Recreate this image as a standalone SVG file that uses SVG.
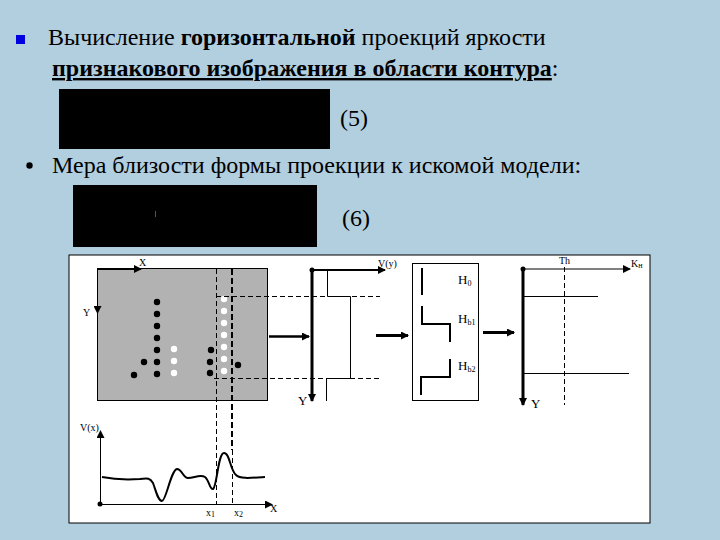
<svg xmlns="http://www.w3.org/2000/svg" width="720" height="540" viewBox="0 0 720 540">
<style>
.t{font-family:"Liberation Serif","Times New Roman",serif;fill:#000}
.h{font-size:24px}
.s{font-size:10px}
.y{font-size:13px}
.l{stroke:#000;fill:none;stroke-width:1}
.m{stroke:#000;fill:none;stroke-width:2}
.b{stroke:#000;fill:none;stroke-width:3}
.d{stroke:#000;fill:none;stroke-width:1;stroke-dasharray:5 3}
.bd{stroke:#000;fill:none;stroke-width:2;stroke-dasharray:6 3}
.k{fill:#000}
.w{fill:#fff}
</style>
<defs>
<marker id="a" markerUnits="userSpaceOnUse" markerWidth="8" markerHeight="8" refX="7" refY="4" orient="auto"><path d="M0 0L8 4L0 8Z" fill="#000"/></marker>
</defs>
<rect width="720" height="540" fill="#b2cfdf"/>
<g id="heading">
<rect x="16" y="35" width="9" height="9" fill="#0000e0"/>
<text class="t h" x="48" y="45">Вычисление <tspan font-weight="bold">горизонтальной</tspan> проекций яркости</text>
<text class="t h" x="52" y="76"><tspan font-weight="bold" text-decoration="underline">признакового изображения в области контура</tspan>:</text>
<rect x="59" y="89" width="271" height="60" fill="#000"/>
<text class="t h" x="340" y="126">(5)</text>
<circle cx="29.500" cy="165.500" r="3.200" fill="#000"/>
<text class="t h" x="52" y="173">Мера близости формы проекции к искомой модели:</text>
<rect x="73" y="185" width="244" height="62" fill="#000"/>
<rect x="155" y="211" width="1" height="6" fill="#555"/>
<text class="t h" x="342" y="226">(6)</text>
</g>
<rect x="69" y="255" width="581" height="268" fill="#fff" stroke="#000" stroke-width="1"/>
<g id="image">
<rect x="97.500" y="268.500" width="170" height="132" fill="#b2b2b2" stroke="#000"/>
<path class="m" d="M97 269H141" marker-end="url(#a)"/>
<path class="l" d="M97.500 269V313" marker-end="url(#a)"/>
<text class="t s" x="139" y="266">X</text>
<text class="t s" x="83" y="316">Y</text>
<g class="k">
<circle cx="157" cy="302" r="3.200"/><circle cx="157" cy="314" r="3.200"/><circle cx="157" cy="326" r="3.200"/><circle cx="157" cy="338" r="3.200"/><circle cx="157" cy="350" r="3.200"/><circle cx="157" cy="362" r="3.200"/><circle cx="157" cy="374" r="3.200"/>
<circle cx="144" cy="362" r="3.200"/><circle cx="134" cy="375" r="3.200"/>
<circle cx="211" cy="350" r="3.200"/><circle cx="210" cy="362" r="3.200"/><circle cx="210" cy="373" r="3.200"/><circle cx="238" cy="365" r="3.200"/>
</g>
<g class="w">
<circle cx="174" cy="349" r="3.200"/><circle cx="174" cy="361" r="3.200"/><circle cx="174" cy="373" r="3.200"/>
<circle cx="224" cy="299" r="3.200"/><circle cx="224" cy="311" r="3.200"/><circle cx="224" cy="323" r="3.200"/><circle cx="224" cy="335" r="3.200"/><circle cx="224" cy="347" r="3.200"/><circle cx="224" cy="359" r="3.200"/><circle cx="224" cy="371" r="3.200"/>
</g>
</g>
<g id="connectors">
<path class="d" d="M216.500 269V505"/>
<path class="d" d="M232.500 450V505"/>
<path class="bd" d="M232 269V450"/>
<path class="d" d="M216 296.500H380"/>
<path class="d" d="M214 378.500H380"/>
<path d="M269 336.500H309" stroke="#000" stroke-width="2.500" fill="none" marker-end="url(#a)"/>
<path d="M376 335.500H408" stroke="#000" stroke-width="3" fill="none" marker-end="url(#a)"/>
<path d="M483 332.500H514" stroke="#000" stroke-width="3" fill="none" marker-end="url(#a)"/>
</g>
<g id="vy-plot">
<circle cx="312" cy="270" r="2.500" fill="#000"/>
<path class="b" d="M312 270V401" marker-end="url(#a)"/>
<path class="m" d="M312 270H385" marker-end="url(#a)"/>
<path class="l" d="M327.500 270V296.500H350.500V378.500H326.500V401"/>
<text class="t s" x="378" y="267">V(y)</text>
<text class="t y" x="298" y="405">Y</text>
</g>
<g id="models">
<rect x="412.500" y="263.500" width="66" height="137" fill="#fff" stroke="#000"/>
<path class="m" d="M422 268V295"/>
<path class="m" d="M422 306V324H450V342"/>
<path class="m" d="M450 359V377H421V395"/>
<text class="t y" x="458" y="284">H<tspan font-size="8" dy="2">0</tspan></text>
<text class="t y" x="458" y="323">H<tspan font-size="8" dy="2">b1</tspan></text>
<text class="t y" x="458" y="370">H<tspan font-size="8" dy="2">b2</tspan></text>
</g>
<g id="kn-plot">
<circle cx="523" cy="269" r="2.500" fill="#000"/>
<path class="b" d="M523 269V405" marker-end="url(#a)"/>
<path class="l" d="M523 269H630" marker-end="url(#a)"/>
<path class="l" d="M523 296.500H598"/>
<path class="l" d="M523 373.500H629"/>
<path class="d" d="M564.500 267V405"/>
<text class="t s" x="559" y="264">Th</text>
<text class="t s" x="631" y="267">K<tspan font-size="8" dy="1">н</tspan></text>
<text class="t y" x="531" y="408">Y</text>
</g>
<g id="vx-plot">
<circle cx="100" cy="504" r="2.500" fill="#000"/>
<path class="l" d="M100.500 504V431" marker-end="url(#a)"/>
<path class="l" d="M100 504.500H272" marker-end="url(#a)"/>
<path class="m" d="M102 477C112 479 125 480 140 479C148 478 150 478 153 483C156 491 158 501 162 501C166 501 171 470 177 469C182 469 183 478 188 478C194 478 200 474 205 477C209 480 210 490 213 489C217 487 218 453 224 453C230 453 230 470 236 475C240 479 250 478 265 477"/>
<text class="t s" x="80" y="431">V(x)</text>
<text class="t s" x="206" y="516">x<tspan font-size="8" dy="1">1</tspan></text>
<text class="t s" x="234" y="516">x<tspan font-size="8" dy="1">2</tspan></text>
<text class="t s" x="270" y="512">X</text>
</g>
</svg>
